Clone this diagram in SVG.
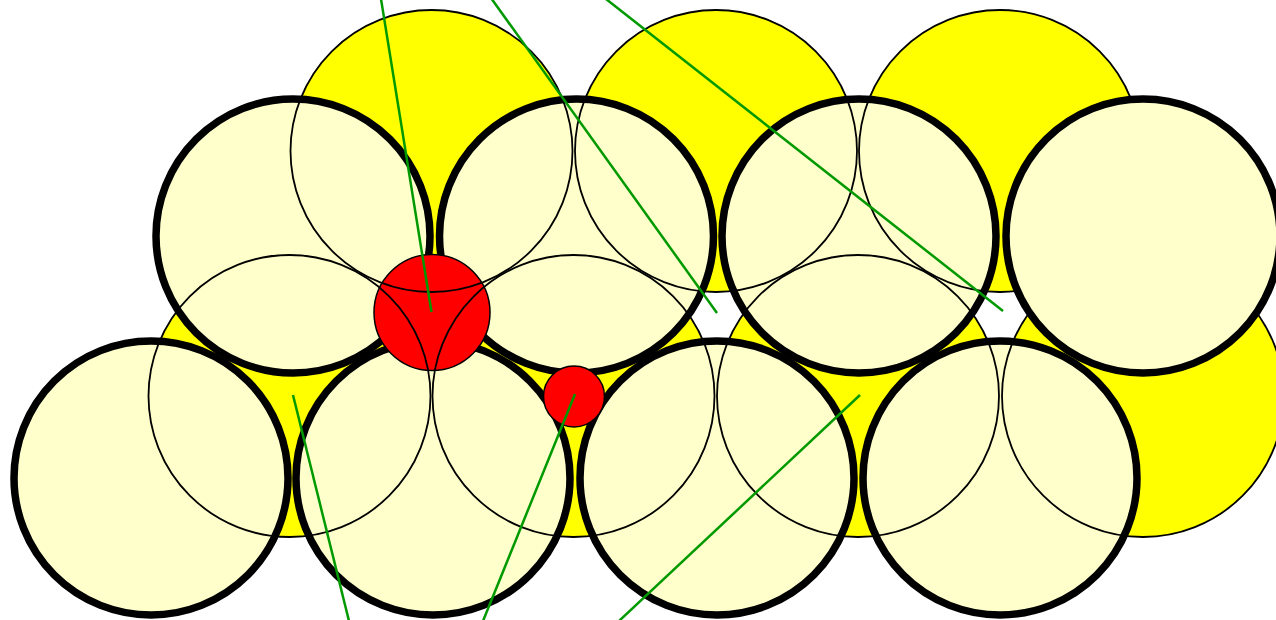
<svg xmlns="http://www.w3.org/2000/svg" width="1276" height="620" viewBox="0 0 1276 620">
<style>
.y{fill:#ff0;stroke:none}
.p{fill:#ffc;stroke:#000;stroke-width:7.500}
.r{fill:#f00;stroke:#000;stroke-width:1.500}
.o{fill:none;stroke:#000;stroke-width:1.800}
.c{stroke:#090;stroke-width:2.500;fill:none}
</style>
<rect width="1276" height="620" fill="#fff"/>
<g id="yellow-discs">
<circle class="y" cx="431.5" cy="151" r="141"/>
<circle class="y" cx="716" cy="151" r="141"/>
<circle class="y" cx="1000" cy="151" r="141"/>
<circle class="y" cx="289.5" cy="396" r="141"/>
<circle class="y" cx="573.5" cy="396" r="141"/>
<circle class="y" cx="858" cy="396" r="141"/>
<circle class="y" cx="1143" cy="396" r="141"/>
</g>
<g id="pale-discs">
<circle id="pale-1" class="p" cx="293" cy="236" r="137"/>
<circle id="pale-2" class="p" cx="576.500" cy="236" r="137"/>
<circle id="pale-3" class="p" cx="859" cy="236" r="137"/>
<circle id="pale-5" class="p" cx="151" cy="478" r="137"/>
<circle id="pale-6" class="p" cx="433" cy="478" r="137"/>
<circle id="pale-7" class="p" cx="717" cy="478" r="137"/>
<circle id="pale-8" class="p" cx="1000" cy="478" r="137"/>
</g>
<g id="red-1"><circle class="r" cx="432" cy="312.500" r="58"/></g>
<g id="red-2"><circle class="r" cx="574" cy="396.500" r="30.500"/></g>
<g id="outlines">
<circle class="o" cx="431.5" cy="151" r="141"/>
<circle class="o" cx="716" cy="151" r="141"/>
<circle class="o" cx="1000" cy="151" r="141"/>
<circle class="o" cx="289.5" cy="396" r="141"/>
<circle class="o" cx="573.5" cy="396" r="141"/>
<circle class="o" cx="858" cy="396" r="141"/>
<circle class="o" cx="1143" cy="396" r="141"/>
</g>
<g id="pale-4"><circle class="p" cx="1143" cy="236" r="137"/></g>
<g id="connectors">
<line class="c" x1="381" y1="-1" x2="431.500" y2="312"/>
<line class="c" x1="491" y1="-2" x2="717" y2="313"/>
<line class="c" x1="606" y1="-1" x2="1003" y2="311"/>
<line class="c" x1="293" y1="395" x2="349" y2="621"/>
<line class="c" x1="575" y1="394" x2="483" y2="621"/>
<line class="c" x1="860" y1="395" x2="619" y2="621"/>
</g>
</svg>
